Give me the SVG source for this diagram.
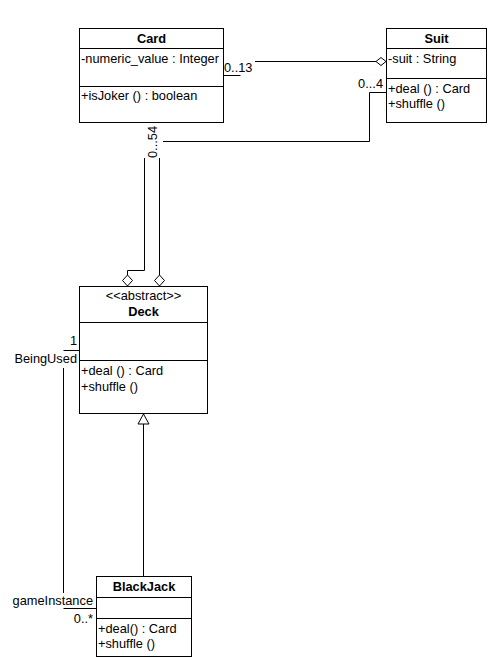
<svg xmlns="http://www.w3.org/2000/svg" width="490" height="666" viewBox="0 0 490 666">
<style>
.box{fill:#fff;stroke:#000;stroke-width:1}
.ln{fill:none;stroke:#000;stroke-width:1}
text{font-family:"Liberation Sans",Arial,sans-serif;font-size:12.8px;fill:#000}
.t{font-weight:bold;text-anchor:middle}
.c{text-anchor:middle}
.r{text-anchor:end}
</style>
<rect width="490" height="666" fill="#fff"/>
<g id="connectors">
<path class="ln" d="M223.5,75.5 H240.5 M255,61.5 H376"/>
<path class="ln" d="M376,61.5 L381,57.5 L386,61.5 L381,65.5 Z" fill="#fff"/>
<path class="ln" d="M163,141.5 H369.5 V92.5 H386"/>
<path class="ln" d="M144.5,158 V270.5 H127.5 V275"/>
<path class="ln" d="M127.5,275 L132.5,280.5 L127.5,286 L122.5,280.5 Z" fill="#fff"/>
<path class="ln" d="M159.5,158 V275"/>
<path class="ln" d="M159.5,275 L164.5,280.5 L159.5,286 L154.5,280.5 Z" fill="#fff"/>
<path class="ln" d="M143.5,576 V424"/>
<path class="ln" d="M143.5,414 L149,424 L138,424 Z" fill="#fff"/>
<path class="ln" d="M79,350.5 H63.5 M63.5,368 V593 M63.5,608.5 H96"/>
<text x="224" y="72">0..13</text>
<text x="383" y="88" class="r">0...4</text>
<text transform="translate(156.5,142) rotate(-90)" class="c">0...54</text>
<text x="77" y="345" class="r">1</text>
<text x="77" y="363" class="r">BeingUsed</text>
<text x="93" y="605" class="r">gameInstance</text>
<text x="93" y="623" class="r">0..*</text>
</g>
<g id="card">
<rect class="box" x="79.5" y="28.5" width="144" height="94"/>
<path class="ln" d="M79.5,48.5 H223.5 M79.5,86.5 H223.5"/>
<text x="151.5" y="43" class="t">Card</text>
<text x="81" y="63">-numeric_value : Integer</text>
<text x="81" y="100">+isJoker () : boolean</text>
</g>
<g id="suit">
<rect class="box" x="386.5" y="28.5" width="100" height="94"/>
<path class="ln" d="M386.5,48.5 H486.5 M386.5,78.5 H486.5"/>
<text x="436.5" y="43" class="t">Suit</text>
<text x="388" y="63">-suit : String</text>
<text x="388" y="93">+deal () : Card</text>
<text x="388" y="108">+shuffle ()</text>
</g>
<g id="deck">
<rect class="box" x="79.5" y="286.5" width="128" height="127"/>
<path class="ln" d="M79.5,322.5 H207.5 M79.5,360.5 H207.5"/>
<text x="143.5" y="300" class="c">&lt;&lt;abstract&gt;&gt;</text>
<text x="143.5" y="316" class="t">Deck</text>
<text x="81" y="375">+deal () : Card</text>
<text x="81" y="391">+shuffle ()</text>
</g>
<g id="blackjack">
<rect class="box" x="96.5" y="576.5" width="95" height="80"/>
<path class="ln" d="M96.5,597.5 H191.5 M96.5,618.5 H191.5"/>
<text x="144" y="591" class="t">BlackJack</text>
<text x="98" y="633">+deal() : Card</text>
<text x="98" y="648">+shuffle ()</text>
</g>
</svg>
